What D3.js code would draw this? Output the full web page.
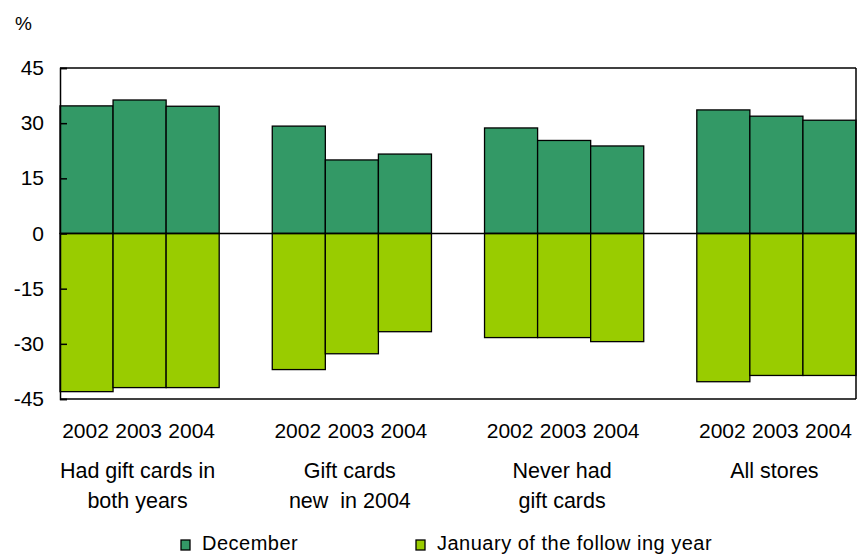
<html>
  <head>
    <script src="https://d3js.org/d3.v7.min.js"></script>
  </head>
  <body style="margin:0;background:#fff">
    <div id="chart"></div>
    <script>
      const groups = [["Had gift cards in", "both years"], ["Gift cards", "new  in 2004"], ["Never had", "gift cards"], ["All stores"]]
      const years = ["2002", "2003", "2004"]
      const december = [[34.7, 36.3, 34.6], [29.2, 20.0, 21.6], [28.7, 25.3, 23.8], [33.6, 31.9, 30.8]]
      const january = [[-43.0, -41.9, -41.9], [-37.0, -32.7, -26.7], [-28.3, -28.3, -29.4], [-40.3, -38.6, -38.6]]
      const yTicks = [45, 30, 15, 0, -15, -30, -45]
      const seriesNames = ["December", "January of the follow ing year"]

      const W = 857, H = 554
      const m = {left: 60, right: 1, top: 68, bottom: 155}
      const font = "'Liberation Sans', Arial, sans-serif"

      const svg = d3.select("#chart").append("svg")
        .attr("width", W).attr("height", H)
        .style("font-family", font)

      const y = d3.scaleLinear().domain([-45, 45]).range([H - m.bottom, m.top])
      const x0 = d3.scaleBand().domain(d3.range(groups.length))
        .range([m.left, W - m.right]).paddingInner(0.25).paddingOuter(0)
      const x1 = d3.scaleBand().domain(years).range([0, x0.bandwidth()]).padding(0)

      const colors = ["#339966", "#99cc00"]

      // bars + labels per group
      const g = svg.append("g")
      groups.forEach((grp, gi) => {
        const gg = g.append("g").attr("transform", `translate(${x0(gi)},0)`)
        gg.selectAll(".dec").data(december[gi]).enter().append("rect")
          .attr("x", (d, i) => x1(years[i]))
          .attr("y", d => y(d))
          .attr("width", x1.bandwidth())
          .attr("height", d => y(0) - y(d))
          .attr("fill", colors[0]).attr("stroke", "#000").attr("stroke-width", 1.3)
        gg.selectAll(".jan").data(january[gi]).enter().append("rect")
          .attr("x", (d, i) => x1(years[i]))
          .attr("y", y(0))
          .attr("width", x1.bandwidth())
          .attr("height", d => y(d) - y(0))
          .attr("fill", colors[1]).attr("stroke", "#000").attr("stroke-width", 1.3)
        gg.selectAll(".yr").data(years).enter().append("text")
          .attr("x", d => x1(d) + x1.bandwidth() / 2 - 1)
          .attr("y", 438)
          .attr("text-anchor", "middle")
          .attr("font-size", 21)
          .text(d => d)
        gg.selectAll(".cat").data(grp).enter().append("text")
          .attr("x", x0.bandwidth() / 2 - 2)
          .attr("y", (d, i) => 477.5 + i * 30)
          .attr("text-anchor", "middle")
          .attr("font-size", 21.5)
          .style("white-space", "pre")
          .text(d => d)
      })

      // frame and zero line
      svg.append("line").attr("x1", m.left).attr("x2", W - m.right)
        .attr("y1", y(45)).attr("y2", y(45)).attr("stroke", "#000").attr("stroke-width", 1.5)
      svg.append("line").attr("x1", m.left).attr("x2", W - m.right)
        .attr("y1", y(-45)).attr("y2", y(-45)).attr("stroke", "#000").attr("stroke-width", 1.5)
      svg.append("line").attr("x1", W - m.right).attr("x2", W - m.right)
        .attr("y1", y(45)).attr("y2", y(-45)).attr("stroke", "#000").attr("stroke-width", 1.5)
      svg.append("line").attr("x1", m.left).attr("x2", W - m.right)
        .attr("y1", y(0)).attr("y2", y(0)).attr("stroke", "#000").attr("stroke-width", 1.5)

      // y axis
      const yAxis = svg.append("g").attr("transform", `translate(${m.left},0)`)
        .call(d3.axisRight(y).tickValues(yTicks).tickSize(7).tickFormat(d3.format("d")))
      yAxis.select(".domain").attr("stroke-width", 1.5)
      yAxis.selectAll(".tick line").attr("stroke-width", 1.5)
      yAxis.selectAll(".tick text")
        .attr("x", -16).attr("dy", 6.5).attr("text-anchor", "end")
        .attr("font-size", 21).attr("font-family", font).attr("fill", "#000")
        .text(d => d < 0 ? "-" + Math.abs(d) : d)

      svg.append("text").attr("x", 15).attr("y", 30).attr("font-size", 19).text("%")

      // legend
      const legX = [181, 416]
      seriesNames.forEach((s, i) => {
        svg.append("rect").attr("x", legX[i]).attr("y", 540).attr("width", 9).attr("height", 10)
          .attr("fill", colors[i]).attr("stroke", "#000").attr("stroke-width", 1.3)
        svg.append("text").attr("x", legX[i] + 21).attr("y", 550)
          .attr("font-size", 20).attr("letter-spacing", 0.5).text(s)
      })
    </script>
  </body>
</html>
